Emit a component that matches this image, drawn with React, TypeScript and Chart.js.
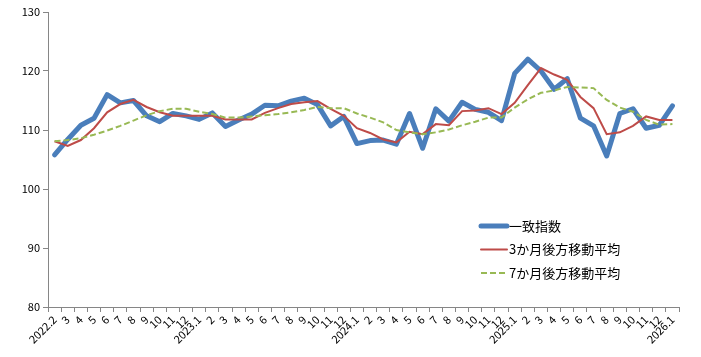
import React, { useEffect, useRef } from "react";
import { Chart, registerables } from "chart.js";

Chart.register(...registerables);

const categories = [
  "2022.2", "3", "4", "5", "6", "7", "8", "9", "10", "11", "12",
  "2023.1", "2", "3", "4", "5", "6", "7", "8", "9", "10", "11", "12",
  "2024.1", "2", "3", "4", "5", "6", "7", "8", "9", "10", "11", "12",
  "2025.1", "2", "3", "4", "5", "6", "7", "8", "9", "10", "11", "12",
  "2026.1",
];

const coincidentIndex = [
  105.8, 108.4, 110.8, 112.0, 116.0, 114.6, 115.0, 112.4, 111.4, 112.8, 112.4,
  111.8, 112.9, 110.6, 111.7, 112.7, 114.2, 114.1, 114.9, 115.4, 114.3, 110.7, 112.3,
  107.7, 108.2, 108.3, 107.6, 112.8, 106.9, 113.6, 111.5, 114.7, 113.5, 113.0, 111.6,
  119.6, 122.0, 120.0, 116.9, 118.7, 112.0, 110.7, 105.6, 112.8, 113.6, 110.3, 110.8,
  114.1,
];

const ma3 = [
  108.1, 107.3, 108.3, 110.3, 113.0, 114.4, 115.1, 113.9, 113.0, 112.4, 112.4,
  112.4, 112.4, 111.8, 111.8, 111.8, 112.9, 113.7, 114.4, 114.7, 114.9, 113.6, 112.4,
  110.3, 109.5, 108.4, 107.9, 109.7, 109.3, 111.0, 110.8, 113.2, 113.3, 113.7, 112.7,
  114.6, 117.6, 120.5, 119.4, 118.5, 115.6, 113.7, 109.3, 109.6, 110.7, 112.3, 111.7,
  111.7,
];

const ma7 = [
  108.1, 108.3, 108.6, 109.2, 109.9, 110.7, 111.6, 112.5, 113.2, 113.6, 113.6,
  113.1, 112.7, 112.1, 112.1, 112.3, 112.5, 112.7, 113.0, 113.4, 113.9, 113.7, 113.7,
  112.8, 112.1, 111.3, 110.0, 109.6, 109.3, 109.6, 110.1, 110.8, 111.4, 112.1, 112.1,
  113.8, 115.2, 116.3, 116.7, 117.3, 117.2, 117.1, 115.1, 113.8, 113.1, 111.7, 110.9,
  111.0,
];

const seriesNames = ["一致指数", "3か月後方移動平均", "7か月後方移動平均"];
const yMin = 80;
const yMax = 130;
const yStep = 10;

const FONT = "'Noto Sans CJK JP', 'Noto Sans', sans-serif";
const AXIS_COLOR = "#868686";

const legendPlugin = {
  id: "insideLegend",
  afterDraw(chart: any) {
    const ctx = chart.ctx;
    const x0 = 481;
    const x1 = 507;
    const yStart = 226;
    const gap = 23.5;
    ctx.save();
    chart.data.datasets.forEach((ds: any, i: number) => {
      const y = yStart + i * gap;
      ctx.beginPath();
      ctx.strokeStyle = ds.borderColor;
      ctx.lineWidth = ds.borderWidth;
      ctx.lineCap = ds.borderDash && ds.borderDash.length ? "butt" : "round";
      ctx.setLineDash(ds.borderDash || []);
      ctx.moveTo(x0, y);
      ctx.lineTo(x1, y);
      ctx.stroke();
      ctx.setLineDash([]);
      ctx.fillStyle = "#000";
      ctx.font = `13px ${FONT}`;
      ctx.textAlign = "left";
      ctx.textBaseline = "middle";
      ctx.fillText(ds.label, x1 + 2, y);
    });
    ctx.restore();
  },
};

export default function App() {
  const canvasRef = useRef<HTMLCanvasElement | null>(null);

  useEffect(() => {
    const canvas = canvasRef.current;
    if (!canvas) return;
    const chart = new Chart(canvas, {
      type: "line",
      data: {
        labels: categories,
        datasets: [
          {
            label: seriesNames[0],
            data: coincidentIndex,
            borderColor: "#4A7EBB",
            backgroundColor: "#4A7EBB",
            borderWidth: 5,
            pointRadius: 0,
            tension: 0,
            borderJoinStyle: "round",
            borderCapStyle: "round",
            order: 3,
          },
          {
            label: seriesNames[1],
            data: ma3,
            borderColor: "#BE4B48",
            backgroundColor: "#BE4B48",
            borderWidth: 2,
            pointRadius: 0,
            tension: 0,
            order: 2,
          },
          {
            label: seriesNames[2],
            data: ma7,
            borderColor: "#98B954",
            backgroundColor: "#98B954",
            borderWidth: 2,
            borderDash: [6, 3],
            pointRadius: 0,
            tension: 0,
            order: 1,
          },
        ],
      },
      options: {
        responsive: false,
        animation: false,
        devicePixelRatio: 1,
        layout: { padding: { left: 0, right: 22, top: 12, bottom: 0 } },
        plugins: {
          legend: { display: false },
          tooltip: { enabled: false },
        },
        scales: {
          x: {
            offset: true,
            grid: {
              offset: true,
              display: true,
              drawOnChartArea: false,
              drawTicks: true,
              tickLength: 5,
              color: AXIS_COLOR,
            },
            border: { color: AXIS_COLOR, width: 1 },
            ticks: {
              autoSkip: false,
              minRotation: 45,
              maxRotation: 45,
              color: "#000",
              padding: 1,
              font: { family: FONT, size: 11 },
            },
            afterFit(scale: any) {
              scale.height = 50;
            },
          },
          y: {
            min: yMin,
            max: yMax,
            grid: {
              display: true,
              drawOnChartArea: false,
              drawTicks: true,
              tickLength: 5,
              color: AXIS_COLOR,
            },
            border: { color: AXIS_COLOR, width: 1 },
            ticks: {
              stepSize: yStep,
              color: "#000",
              padding: 3,
              font: { family: FONT, size: 11 },
            },
            afterFit(scale: any) {
              scale.width = 48;
            },
          },
        },
      },
      plugins: [legendPlugin],
    });
    return () => chart.destroy();
  }, []);

  return (
    <div style={{ position: "fixed", left: 0, top: 0, width: 701, height: 357, background: "#fff" }}>
      <canvas ref={canvasRef} width={701} height={357} style={{ display: "block", width: 701, height: 357 }} />
    </div>
  );
}
